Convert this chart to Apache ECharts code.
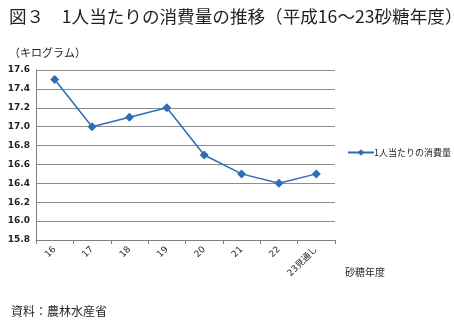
<!DOCTYPE html>
<html>
<head>
<meta charset="utf-8">
<script src="https://cdn.jsdelivr.net/npm/echarts@6/dist/echarts.min.js"></script>
<style>
html,body{margin:0;padding:0;background:#fff;}
#chart{width:454px;height:323px;}
</style>
</head>
<body>
<div id="chart"></div>
<script>
// 砂糖年度（平成）
const categories = ['16', '17', '18', '19', '20', '21', '22', '23見通し'];
// 1人当たりの消費量（キログラム）
const consumption = [17.5, 17.0, 17.1, 17.2, 16.7, 16.5, 16.4, 16.5];
const seriesName = '1人当たりの消費量';
const yMin = 15.8, yMax = 17.6, yStep = 0.2;

const font = '"Noto Sans CJK JP", "Noto Sans", sans-serif';
const chart = echarts.init(document.getElementById('chart'), null, {renderer: 'canvas'});
chart.setOption({
  animation: false,
  backgroundColor: '#fff',
  textStyle: {fontFamily: font},
  title: [
    {text: '図３　1人当たりの消費量の推移（平成16～23砂糖年度）', left: 4, top: 3,
     textStyle: {fontSize: 17.6, fontWeight: 'normal', color: '#231f20', fontFamily: font}},
    {text: '（キログラム）', left: 4, top: 42,
     textStyle: {fontSize: 11, fontWeight: 'normal', color: '#231f20', fontFamily: font}},
    {text: '砂糖年度', left: 340, top: 262,
     textStyle: {fontSize: 10, fontWeight: 'normal', color: '#231f20', fontFamily: font}},
    {text: '資料：農林水産省', left: 6, top: 300,
     textStyle: {fontSize: 12, fontWeight: 'normal', color: '#231f20', fontFamily: font}}
  ],
  legend: {
    data: [seriesName], left: 342, top: 143, orient: 'vertical',
    itemWidth: 26, itemHeight: 8, itemGap: 4,
    textStyle: {fontSize: 9, color: '#231f20', fontFamily: font, padding: [0, 0, 0, -5]}
  },
  grid: {left: 36, right: 119, top: 70, bottom: 83, containLabel: false},
  xAxis: {
    type: 'category', data: categories, boundaryGap: true,
    axisLine: {lineStyle: {color: '#7f7f7f', width: 1}},
    axisTick: {show: true, length: 4, lineStyle: {color: '#7f7f7f'}},
    axisLabel: {rotate: 45, fontSize: 9, color: '#231f20', margin: 8, fontFamily: 'DejaVu Sans, "Noto Sans CJK JP"'}
  },
  yAxis: {
    type: 'value', min: yMin, max: yMax, interval: yStep,
    axisLine: {show: true, lineStyle: {color: '#7f7f7f', width: 1}},
    axisTick: {show: false},
    splitLine: {lineStyle: {color: '#8c8c8c', width: 1}},
    axisLabel: {fontSize: 9, fontWeight: 'bold', color: '#231f20', margin: 6,
      formatter: v => v.toFixed(1), fontFamily: 'DejaVu Sans'}
  },
  series: [{
    name: seriesName, type: 'line', data: consumption,
    symbol: 'diamond', symbolSize: 9,
    lineStyle: {color: '#2e6db4', width: 1.5},
    itemStyle: {color: '#2e6db4'}
  }]
});
</script>
</body>
</html>
